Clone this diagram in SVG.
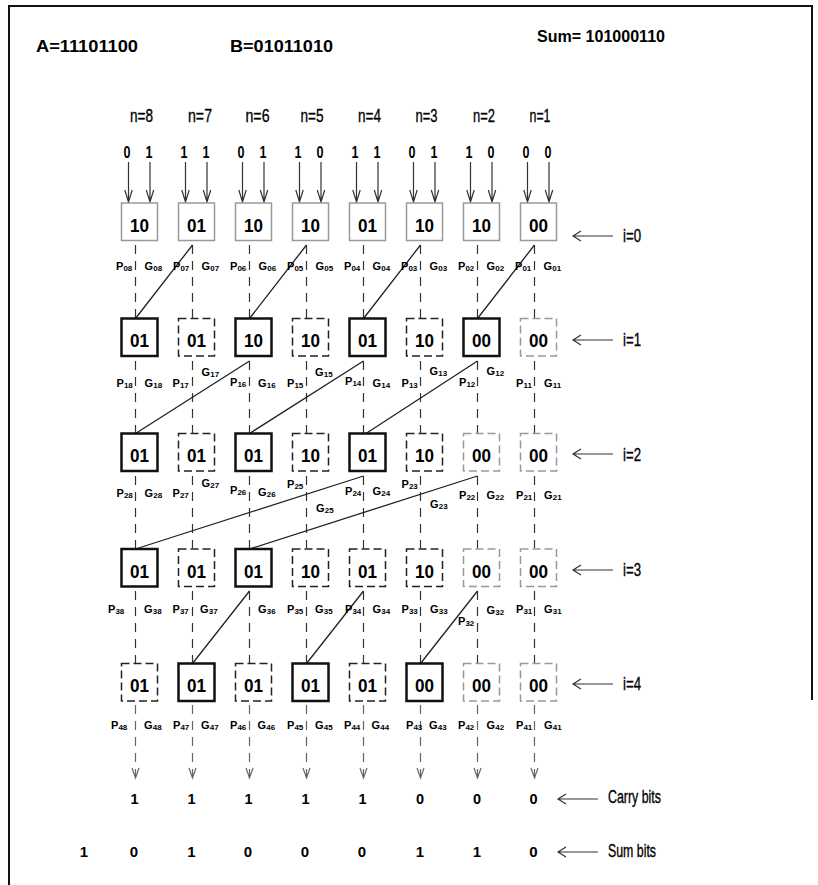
<svg xmlns="http://www.w3.org/2000/svg" width="818" height="885" viewBox="0 0 818 885">
<defs>
<style>
text{font-family:"Liberation Sans",Arial,sans-serif;fill:#000}
.hd{font-size:16.5px;font-weight:bold}
.nl{font-size:19px;text-anchor:middle;stroke:#000;stroke-width:0.35}
.il{font-size:17.5px;stroke:#000;stroke-width:0.35}
.bit{font-size:17px;font-weight:bold;text-anchor:middle}
.bx{font-size:18.5px;font-weight:bold;text-anchor:middle}
.lp{font-size:11px;font-weight:bold}
.ls{font-size:8px;font-weight:bold}
.cb{font-size:14.5px;font-weight:bold;text-anchor:middle}
.sb{font-size:15px;font-weight:bold;text-anchor:middle}
.S{fill:#fff;stroke:#111;stroke-width:2.5}
.D{fill:#fff;stroke:#222;stroke-width:1.5;stroke-dasharray:8 4}
.G{fill:#fff;stroke:#999;stroke-width:1.5}
.GD{fill:#fff;stroke:#999;stroke-width:1.5;stroke-dasharray:8 4}
.dash{stroke:#333;stroke-width:1.2;stroke-dasharray:9 7;fill:none}
.dg{stroke:#666;stroke-width:1.2;stroke-dasharray:9 7;fill:none}
.ln{stroke:#222;stroke-width:1.3;fill:none}
.ar{stroke:#333;stroke-width:1.2;fill:none}
.ag{stroke:#666;stroke-width:1.2;fill:none}
</style>
</defs>
<rect width="818" height="885" fill="#fff"/>
<g id="frame" fill="none" stroke="#111" stroke-width="2">
<path d="M9,885 V6 H812 V700"/>
</g>

<g id="header">
<text class="hd" x="36" y="51.5" textLength="102" lengthAdjust="spacingAndGlyphs">A=11101100</text>
<text class="hd" x="230" y="51.5" textLength="103" lengthAdjust="spacingAndGlyphs">B=01011010</text>
<text class="hd" x="537" y="41.5" textLength="128" lengthAdjust="spacingAndGlyphs">Sum= 101000110</text>
<text class="nl" x="141.5" y="121.5" textLength="23" lengthAdjust="spacingAndGlyphs">n=8</text>
<text class="nl" x="200" y="121.5" textLength="24" lengthAdjust="spacingAndGlyphs">n=7</text>
<text class="nl" x="257.5" y="121.5" textLength="24" lengthAdjust="spacingAndGlyphs">n=6</text>
<text class="nl" x="312" y="121.5" textLength="23" lengthAdjust="spacingAndGlyphs">n=5</text>
<text class="nl" x="369.5" y="121.5" textLength="23" lengthAdjust="spacingAndGlyphs">n=4</text>
<text class="nl" x="426.5" y="121.5" textLength="22" lengthAdjust="spacingAndGlyphs">n=3</text>
<text class="nl" x="484" y="121.5" textLength="22" lengthAdjust="spacingAndGlyphs">n=2</text>
<text class="nl" x="540" y="121.5" textLength="21" lengthAdjust="spacingAndGlyphs">n=1</text>
</g>

<g id="inputs">
<text class="bit" x="127" y="157.5" textLength="7" lengthAdjust="spacingAndGlyphs">0</text>
<text class="bit" x="149" y="157.5" textLength="7" lengthAdjust="spacingAndGlyphs">1</text>
<text class="bit" x="184" y="157.5" textLength="7" lengthAdjust="spacingAndGlyphs">1</text>
<text class="bit" x="206" y="157.5" textLength="7" lengthAdjust="spacingAndGlyphs">1</text>
<text class="bit" x="241" y="157.5" textLength="7" lengthAdjust="spacingAndGlyphs">0</text>
<text class="bit" x="263" y="157.5" textLength="7" lengthAdjust="spacingAndGlyphs">1</text>
<text class="bit" x="298" y="157.5" textLength="7" lengthAdjust="spacingAndGlyphs">1</text>
<text class="bit" x="320" y="157.5" textLength="7" lengthAdjust="spacingAndGlyphs">0</text>
<text class="bit" x="355" y="157.5" textLength="7" lengthAdjust="spacingAndGlyphs">1</text>
<text class="bit" x="377" y="157.5" textLength="7" lengthAdjust="spacingAndGlyphs">1</text>
<text class="bit" x="412" y="157.5" textLength="7" lengthAdjust="spacingAndGlyphs">0</text>
<text class="bit" x="434" y="157.5" textLength="7" lengthAdjust="spacingAndGlyphs">1</text>
<text class="bit" x="469" y="157.5" textLength="7" lengthAdjust="spacingAndGlyphs">1</text>
<text class="bit" x="491" y="157.5" textLength="7" lengthAdjust="spacingAndGlyphs">0</text>
<text class="bit" x="526" y="157.5" textLength="7" lengthAdjust="spacingAndGlyphs">0</text>
<text class="bit" x="548" y="157.5" textLength="7" lengthAdjust="spacingAndGlyphs">0</text>
</g>

<g id="connectors">
<g class="ar">
<path d="M128.5,162V202M124.8,190L128.5,202L132.2,190M150,162V202M146.3,190L150,202L153.7,190"/>
<path d="M185.5,162V202M181.8,190L185.5,202L189.2,190M207,162V202M203.3,190L207,202L210.7,190"/>
<path d="M242.5,162V202M238.8,190L242.5,202L246.2,190M264,162V202M260.3,190L264,202L267.7,190"/>
<path d="M299.5,162V202M295.8,190L299.5,202L303.2,190M321,162V202M317.3,190L321,202L324.7,190"/>
<path d="M356.5,162V202M352.8,190L356.5,202L360.2,190M378,162V202M374.3,190L378,202L381.7,190"/>
<path d="M413.5,162V202M409.8,190L413.5,202L417.2,190M435,162V202M431.3,190L435,202L438.7,190"/>
<path d="M470.5,162V202M466.8,190L470.5,202L474.2,190M492,162V202M488.3,190L492,202L495.7,190"/>
<path d="M527.5,162V202M523.8,190L527.5,202L531.2,190M549,162V202M545.3,190L549,202L552.7,190"/>
</g>
<g class="dash">
<path d="M135.5,245V318M192.5,245V318M249.5,245V318M306.5,245V318M363.5,245V318M420.5,245V318M477.5,245V318M534.5,245V318"/>
<path d="M135.5,361V433M192.5,361V433M249.5,361V433M306.5,361V433M363.5,361V433M420.5,361V433M477.5,361V433M534.5,361V433"/>
<path d="M135.5,476V548M192.5,476V548M249.5,476V548M306.5,476V548M363.5,476V548M420.5,476V548M477.5,476V548M534.5,476V548"/>
<path d="M135.5,591V663M192.5,591V663M249.5,591V663M306.5,591V663M363.5,591V663M420.5,591V663M477.5,591V663M534.5,591V663"/>
</g>
<g class="dg">
<path d="M135.5,705V777M192.5,705V777M249.5,705V777M306.5,705V777M363.5,705V777M420.5,705V777M477.5,705V777M534.5,705V777"/>
</g>
<g class="ag">
<path d="M132,768L135.5,778L139,768M189,768L192.5,778L196,768M246,768L249.5,778L253,768M303,768L306.5,778L310,768M360,768L363.5,778L367,768M417,768L420.5,778L424,768M474,768L477.5,778L481,768M531,768L534.5,778L538,768"/>
</g>
<g class="ln">
<path d="M192.5,245L135.5,318.5M306.5,245L249.5,318.5M420.5,245L363.5,318.5M534.5,245L477.5,318.5"/>
<path d="M249.5,361L135.5,433.5M363.5,361L249.5,433.5M477.5,361L366,433.5"/>
<path d="M363.5,476L135.5,549M477.5,476L249.5,549"/>
<path d="M249.5,591L192.5,663.5M363.5,591L306.5,663.5M477.5,591L420.5,663.5"/>
</g>
<g class="ar">
<path d="M573,236H613M581,231L573,236L581,241"/>
<path d="M573,340H613M581,335L573,340L581,345"/>
<path d="M573,454H613M581,449L573,454L581,459"/>
<path d="M573,570H613M581,565L573,570L581,575"/>
<path d="M573,684H613M581,679L573,684L581,689"/>
<path d="M558,799H598M566,794L558,799L566,804"/>
<path d="M558,852H598M566,847L558,852L566,857"/>
</g>
</g>

<g id="row0">
<g id="n0_8"><rect class="G" x="121.5" y="203" width="36" height="37.5"/><text class="bx" x="139.5" y="231.5" textLength="19" lengthAdjust="spacingAndGlyphs">10</text></g>
<g id="n0_7"><rect class="G" x="178.5" y="203" width="36" height="37.5"/><text class="bx" x="196.5" y="231.5" textLength="19" lengthAdjust="spacingAndGlyphs">01</text></g>
<g id="n0_6"><rect class="G" x="235.5" y="203" width="36" height="37.5"/><text class="bx" x="253.5" y="231.5" textLength="19" lengthAdjust="spacingAndGlyphs">10</text></g>
<g id="n0_5"><rect class="G" x="292.5" y="203" width="36" height="37.5"/><text class="bx" x="310.5" y="231.5" textLength="19" lengthAdjust="spacingAndGlyphs">10</text></g>
<g id="n0_4"><rect class="G" x="349.5" y="203" width="36" height="37.5"/><text class="bx" x="367.5" y="231.5" textLength="19" lengthAdjust="spacingAndGlyphs">01</text></g>
<g id="n0_3"><rect class="G" x="406.5" y="203" width="36" height="37.5"/><text class="bx" x="424.5" y="231.5" textLength="19" lengthAdjust="spacingAndGlyphs">10</text></g>
<g id="n0_2"><rect class="G" x="463.5" y="203" width="36" height="37.5"/><text class="bx" x="481.5" y="231.5" textLength="19" lengthAdjust="spacingAndGlyphs">10</text></g>
<g id="n0_1"><rect class="G" x="520.5" y="203" width="36" height="37.5"/><text class="bx" x="538.5" y="231.5" textLength="19" lengthAdjust="spacingAndGlyphs">00</text></g>
</g>
<g id="row1">
<g id="n1_8"><rect class="S" x="121.5" y="318.5" width="36" height="37.5"/><text class="bx" x="139.5" y="347" textLength="19" lengthAdjust="spacingAndGlyphs">01</text></g>
<g id="n1_7"><rect class="D" x="178.5" y="318.5" width="36" height="37.5"/><text class="bx" x="196.5" y="347" textLength="19" lengthAdjust="spacingAndGlyphs">01</text></g>
<g id="n1_6"><rect class="S" x="235.5" y="318.5" width="36" height="37.5"/><text class="bx" x="253.5" y="347" textLength="19" lengthAdjust="spacingAndGlyphs">10</text></g>
<g id="n1_5"><rect class="D" x="292.5" y="318.5" width="36" height="37.5"/><text class="bx" x="310.5" y="347" textLength="19" lengthAdjust="spacingAndGlyphs">10</text></g>
<g id="n1_4"><rect class="S" x="349.5" y="318.5" width="36" height="37.5"/><text class="bx" x="367.5" y="347" textLength="19" lengthAdjust="spacingAndGlyphs">01</text></g>
<g id="n1_3"><rect class="D" x="406.5" y="318.5" width="36" height="37.5"/><text class="bx" x="424.5" y="347" textLength="19" lengthAdjust="spacingAndGlyphs">10</text></g>
<g id="n1_2"><rect class="S" x="463.5" y="318.5" width="36" height="37.5"/><text class="bx" x="481.5" y="347" textLength="19" lengthAdjust="spacingAndGlyphs">00</text></g>
<g id="n1_1"><rect class="GD" x="520.5" y="318.5" width="36" height="37.5"/><text class="bx" x="538.5" y="347" textLength="19" lengthAdjust="spacingAndGlyphs">00</text></g>
</g>
<g id="row2">
<g id="n2_8"><rect class="S" x="121.5" y="433.5" width="36" height="37.5"/><text class="bx" x="139.5" y="462" textLength="19" lengthAdjust="spacingAndGlyphs">01</text></g>
<g id="n2_7"><rect class="D" x="178.5" y="433.5" width="36" height="37.5"/><text class="bx" x="196.5" y="462" textLength="19" lengthAdjust="spacingAndGlyphs">01</text></g>
<g id="n2_6"><rect class="S" x="235.5" y="433.5" width="36" height="37.5"/><text class="bx" x="253.5" y="462" textLength="19" lengthAdjust="spacingAndGlyphs">01</text></g>
<g id="n2_5"><rect class="D" x="292.5" y="433.5" width="36" height="37.5"/><text class="bx" x="310.5" y="462" textLength="19" lengthAdjust="spacingAndGlyphs">10</text></g>
<g id="n2_4"><rect class="S" x="349.5" y="433.5" width="36" height="37.5"/><text class="bx" x="367.5" y="462" textLength="19" lengthAdjust="spacingAndGlyphs">01</text></g>
<g id="n2_3"><rect class="D" x="406.5" y="433.5" width="36" height="37.5"/><text class="bx" x="424.5" y="462" textLength="19" lengthAdjust="spacingAndGlyphs">10</text></g>
<g id="n2_2"><rect class="GD" x="463.5" y="433.5" width="36" height="37.5"/><text class="bx" x="481.5" y="462" textLength="19" lengthAdjust="spacingAndGlyphs">00</text></g>
<g id="n2_1"><rect class="GD" x="520.5" y="433.5" width="36" height="37.5"/><text class="bx" x="538.5" y="462" textLength="19" lengthAdjust="spacingAndGlyphs">00</text></g>
</g>
<g id="row3">
<g id="n3_8"><rect class="S" x="121.5" y="549" width="36" height="37.5"/><text class="bx" x="139.5" y="577.5" textLength="19" lengthAdjust="spacingAndGlyphs">01</text></g>
<g id="n3_7"><rect class="D" x="178.5" y="549" width="36" height="37.5"/><text class="bx" x="196.5" y="577.5" textLength="19" lengthAdjust="spacingAndGlyphs">01</text></g>
<g id="n3_6"><rect class="S" x="235.5" y="549" width="36" height="37.5"/><text class="bx" x="253.5" y="577.5" textLength="19" lengthAdjust="spacingAndGlyphs">01</text></g>
<g id="n3_5"><rect class="D" x="292.5" y="549" width="36" height="37.5"/><text class="bx" x="310.5" y="577.5" textLength="19" lengthAdjust="spacingAndGlyphs">10</text></g>
<g id="n3_4"><rect class="D" x="349.5" y="549" width="36" height="37.5"/><text class="bx" x="367.5" y="577.5" textLength="19" lengthAdjust="spacingAndGlyphs">01</text></g>
<g id="n3_3"><rect class="D" x="406.5" y="549" width="36" height="37.5"/><text class="bx" x="424.5" y="577.5" textLength="19" lengthAdjust="spacingAndGlyphs">10</text></g>
<g id="n3_2"><rect class="GD" x="463.5" y="549" width="36" height="37.5"/><text class="bx" x="481.5" y="577.5" textLength="19" lengthAdjust="spacingAndGlyphs">00</text></g>
<g id="n3_1"><rect class="GD" x="520.5" y="549" width="36" height="37.5"/><text class="bx" x="538.5" y="577.5" textLength="19" lengthAdjust="spacingAndGlyphs">00</text></g>
</g>
<g id="row4">
<g id="n4_8"><rect class="D" x="121.5" y="663.5" width="36" height="37.5"/><text class="bx" x="139.5" y="692" textLength="19" lengthAdjust="spacingAndGlyphs">01</text></g>
<g id="n4_7"><rect class="S" x="178.5" y="663.5" width="36" height="37.5"/><text class="bx" x="196.5" y="692" textLength="19" lengthAdjust="spacingAndGlyphs">01</text></g>
<g id="n4_6"><rect class="D" x="235.5" y="663.5" width="36" height="37.5"/><text class="bx" x="253.5" y="692" textLength="19" lengthAdjust="spacingAndGlyphs">01</text></g>
<g id="n4_5"><rect class="S" x="292.5" y="663.5" width="36" height="37.5"/><text class="bx" x="310.5" y="692" textLength="19" lengthAdjust="spacingAndGlyphs">01</text></g>
<g id="n4_4"><rect class="D" x="349.5" y="663.5" width="36" height="37.5"/><text class="bx" x="367.5" y="692" textLength="19" lengthAdjust="spacingAndGlyphs">01</text></g>
<g id="n4_3"><rect class="S" x="406.5" y="663.5" width="36" height="37.5"/><text class="bx" x="424.5" y="692" textLength="19" lengthAdjust="spacingAndGlyphs">00</text></g>
<g id="n4_2"><rect class="GD" x="463.5" y="663.5" width="36" height="37.5"/><text class="bx" x="481.5" y="692" textLength="19" lengthAdjust="spacingAndGlyphs">00</text></g>
<g id="n4_1"><rect class="GD" x="520.5" y="663.5" width="36" height="37.5"/><text class="bx" x="538.5" y="692" textLength="19" lengthAdjust="spacingAndGlyphs">00</text></g>
</g>

<g id="labels">
<g id="lab0">
<text class="lp" x="116" y="270">P</text><text class="ls" x="123.4" y="271">08</text>
<text class="lp" x="144.5" y="270">G</text><text class="ls" x="153.2" y="271">08</text>
<text class="lp" x="173" y="270">P</text><text class="ls" x="180.4" y="271">07</text>
<text class="lp" x="201.5" y="270">G</text><text class="ls" x="210.2" y="271">07</text>
<text class="lp" x="230" y="270">P</text><text class="ls" x="237.4" y="271">06</text>
<text class="lp" x="258.5" y="270">G</text><text class="ls" x="267.2" y="271">06</text>
<text class="lp" x="287" y="270">P</text><text class="ls" x="294.4" y="271">05</text>
<text class="lp" x="315.5" y="270">G</text><text class="ls" x="324.2" y="271">05</text>
<text class="lp" x="344" y="270">P</text><text class="ls" x="351.4" y="271">04</text>
<text class="lp" x="372.5" y="270">G</text><text class="ls" x="381.2" y="271">04</text>
<text class="lp" x="401" y="270">P</text><text class="ls" x="408.4" y="271">03</text>
<text class="lp" x="429.5" y="270">G</text><text class="ls" x="438.2" y="271">03</text>
<text class="lp" x="458" y="270">P</text><text class="ls" x="465.4" y="271">02</text>
<text class="lp" x="486.5" y="270">G</text><text class="ls" x="495.2" y="271">02</text>
<text class="lp" x="515" y="270">P</text><text class="ls" x="522.4" y="271">01</text>
<text class="lp" x="543.5" y="270">G</text><text class="ls" x="552.2" y="271">01</text>
</g>
<g id="lab1">
<text class="lp" x="116.5" y="387">P</text><text class="ls" x="123.9" y="388">18</text>
<text class="lp" x="144.5" y="387">G</text><text class="ls" x="153.2" y="388">18</text>
<text class="lp" x="172.5" y="387">P</text><text class="ls" x="179.9" y="388">17</text>
<text class="lp" x="201.5" y="376">G</text><text class="ls" x="210.2" y="377">17</text>
<text class="lp" x="230" y="386">P</text><text class="ls" x="237.4" y="387">16</text>
<text class="lp" x="258" y="387">G</text><text class="ls" x="266.7" y="388">16</text>
<text class="lp" x="287" y="387">P</text><text class="ls" x="294.4" y="388">15</text>
<text class="lp" x="315" y="376">G</text><text class="ls" x="323.7" y="377">15</text>
<text class="lp" x="345" y="385">P</text><text class="ls" x="352.4" y="386">14</text>
<text class="lp" x="372.5" y="387">G</text><text class="ls" x="381.2" y="388">14</text>
<text class="lp" x="401.5" y="387">P</text><text class="ls" x="408.9" y="388">13</text>
<text class="lp" x="429.5" y="375">G</text><text class="ls" x="438.2" y="376">13</text>
<text class="lp" x="459" y="386">P</text><text class="ls" x="466.4" y="387">12</text>
<text class="lp" x="486.5" y="375">G</text><text class="ls" x="495.2" y="376">12</text>
<text class="lp" x="516" y="387">P</text><text class="ls" x="523.4" y="388">11</text>
<text class="lp" x="544" y="387">G</text><text class="ls" x="552.7" y="388">11</text>
</g>
<g id="lab2">
<text class="lp" x="116.5" y="497">P</text><text class="ls" x="123.9" y="498">28</text>
<text class="lp" x="144.5" y="497">G</text><text class="ls" x="153.2" y="498">28</text>
<text class="lp" x="172.5" y="497">P</text><text class="ls" x="179.9" y="498">27</text>
<text class="lp" x="201.5" y="487">G</text><text class="ls" x="210.2" y="488">27</text>
<text class="lp" x="230" y="494">P</text><text class="ls" x="237.4" y="495">26</text>
<text class="lp" x="258" y="496">G</text><text class="ls" x="266.7" y="497">26</text>
<text class="lp" x="287" y="488">P</text><text class="ls" x="294.4" y="489">25</text>
<text class="lp" x="316" y="511.5">G</text><text class="ls" x="324.7" y="512.5">25</text>
<text class="lp" x="345" y="495">P</text><text class="ls" x="352.4" y="496">24</text>
<text class="lp" x="372.5" y="495">G</text><text class="ls" x="381.2" y="496">24</text>
<text class="lp" x="401.5" y="488">P</text><text class="ls" x="408.9" y="489">23</text>
<text class="lp" x="430" y="508">G</text><text class="ls" x="438.7" y="509">23</text>
<text class="lp" x="459" y="499">P</text><text class="ls" x="466.4" y="500">22</text>
<text class="lp" x="486.5" y="499">G</text><text class="ls" x="495.2" y="500">22</text>
<text class="lp" x="516" y="499">P</text><text class="ls" x="523.4" y="500">21</text>
<text class="lp" x="544" y="499">G</text><text class="ls" x="552.7" y="500">21</text>
</g>
<g id="lab3">
<text class="lp" x="108" y="613">P</text><text class="ls" x="115.4" y="614">38</text>
<text class="lp" x="144" y="613">G</text><text class="ls" x="152.7" y="614">38</text>
<text class="lp" x="172.5" y="613">P</text><text class="ls" x="179.9" y="614">37</text>
<text class="lp" x="200" y="613">G</text><text class="ls" x="208.7" y="614">37</text>
<text class="lp" x="258" y="613">G</text><text class="ls" x="266.7" y="614">36</text>
<text class="lp" x="287" y="613">P</text><text class="ls" x="294.4" y="614">35</text>
<text class="lp" x="315" y="613">G</text><text class="ls" x="323.7" y="614">35</text>
<text class="lp" x="345" y="613">P</text><text class="ls" x="352.4" y="614">34</text>
<text class="lp" x="372.5" y="613">G</text><text class="ls" x="381.2" y="614">34</text>
<text class="lp" x="401.5" y="613">P</text><text class="ls" x="408.9" y="614">33</text>
<text class="lp" x="430" y="613">G</text><text class="ls" x="438.7" y="614">33</text>
<text class="lp" x="458" y="625">P</text><text class="ls" x="465.4" y="626">32</text>
<text class="lp" x="486.5" y="614">G</text><text class="ls" x="495.2" y="615">32</text>
<text class="lp" x="516" y="613">P</text><text class="ls" x="523.4" y="614">31</text>
<text class="lp" x="544" y="613">G</text><text class="ls" x="552.7" y="614">31</text>
</g>
<g id="lab4">
<text class="lp" x="111" y="729">P</text><text class="ls" x="118.4" y="730">48</text>
<text class="lp" x="144" y="729">G</text><text class="ls" x="152.7" y="730">48</text>
<text class="lp" x="173" y="729">P</text><text class="ls" x="180.4" y="730">47</text>
<text class="lp" x="201" y="729">G</text><text class="ls" x="209.7" y="730">47</text>
<text class="lp" x="230" y="729">P</text><text class="ls" x="237.4" y="730">46</text>
<text class="lp" x="257.5" y="729">G</text><text class="ls" x="266.2" y="730">46</text>
<text class="lp" x="287" y="729">P</text><text class="ls" x="294.4" y="730">45</text>
<text class="lp" x="315" y="729">G</text><text class="ls" x="323.7" y="730">45</text>
<text class="lp" x="344" y="729">P</text><text class="ls" x="351.4" y="730">44</text>
<text class="lp" x="371.5" y="729">G</text><text class="ls" x="380.2" y="730">44</text>
<text class="lp" x="406" y="729">P</text><text class="ls" x="413.4" y="730">43</text>
<text class="lp" x="429" y="729">G</text><text class="ls" x="437.7" y="730">43</text>
<text class="lp" x="458" y="729">P</text><text class="ls" x="465.4" y="730">42</text>
<text class="lp" x="486.5" y="729">G</text><text class="ls" x="495.2" y="730">42</text>
<text class="lp" x="516" y="729">P</text><text class="ls" x="523.4" y="730">41</text>
<text class="lp" x="544" y="729">G</text><text class="ls" x="552.7" y="730">41</text>
</g>
</g>

<g id="stage-labels">
<text class="il" x="623" y="241.7" textLength="18" lengthAdjust="spacingAndGlyphs">i=0</text>
<text class="il" x="623" y="345.7" textLength="18" lengthAdjust="spacingAndGlyphs">i=1</text>
<text class="il" x="623" y="460.5" textLength="18" lengthAdjust="spacingAndGlyphs">i=2</text>
<text class="il" x="623" y="575.7" textLength="18" lengthAdjust="spacingAndGlyphs">i=3</text>
<text class="il" x="623" y="690" textLength="18" lengthAdjust="spacingAndGlyphs">i=4</text>
</g>

<g id="carry">
<text class="cb" x="134.5" y="803.5">1</text>
<text class="cb" x="191.5" y="803.5">1</text>
<text class="cb" x="248.5" y="803.5">1</text>
<text class="cb" x="305.5" y="803.5">1</text>
<text class="cb" x="362.5" y="803.5">1</text>
<text class="cb" x="420" y="803.5">0</text>
<text class="cb" x="477" y="803.5">0</text>
<text class="cb" x="533.5" y="803.5">0</text>
<text class="il" x="608" y="803" textLength="53" lengthAdjust="spacingAndGlyphs">Carry bits</text>
</g>
<g id="sum">
<text class="sb" x="84" y="857">1</text>
<text class="sb" x="134" y="857">0</text>
<text class="sb" x="191.5" y="857">1</text>
<text class="sb" x="248" y="857">0</text>
<text class="sb" x="305" y="857">0</text>
<text class="sb" x="362" y="857">0</text>
<text class="sb" x="420" y="857">1</text>
<text class="sb" x="477" y="857">1</text>
<text class="sb" x="533.5" y="857">0</text>
<text class="il" x="608" y="856.5" textLength="48" lengthAdjust="spacingAndGlyphs">Sum bits</text>
</g>
</svg>
